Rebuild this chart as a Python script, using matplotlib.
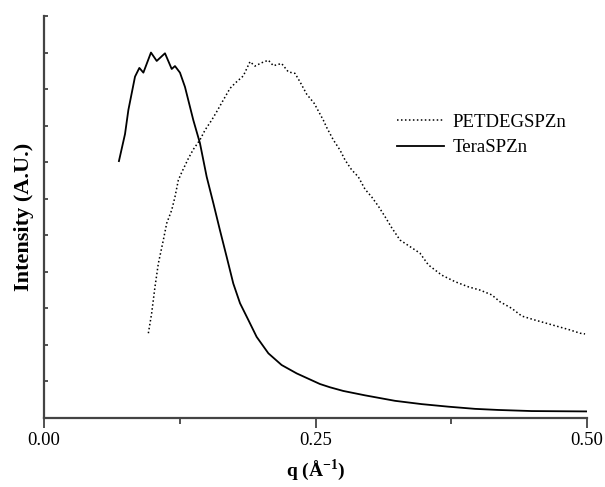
import matplotlib
matplotlib.use("Agg")
import matplotlib.pyplot as plt
from matplotlib.ticker import MultipleLocator, FixedLocator

plt.rcParams['font.family'] = ['Liberation Serif', 'DejaVu Serif']
plt.rcParams['mathtext.fontset'] = 'custom'
plt.rcParams['mathtext.rm'] = 'Liberation Serif'
plt.rcParams['mathtext.bf'] = 'Liberation Serif:bold'

# Scattering vector q (1/Angstrom) and intensity (arbitrary units)
tera_q = [0.069, 0.0746, 0.0777, 0.0838, 0.0878, 0.0915, 0.0985, 0.1038, 0.1114,
          0.1176, 0.1206, 0.1252, 0.1298, 0.1375, 0.1436, 0.1498, 0.156, 0.162,
          0.1682, 0.1743, 0.1805, 0.1882, 0.1958, 0.2066, 0.2188, 0.2327, 0.2541,
          0.2634, 0.2756, 0.2956, 0.3232, 0.3477, 0.3723, 0.3969, 0.4183, 0.449,
          0.5]
tera_i = [7.03, 7.77, 8.43, 9.34, 9.58, 9.45, 10.0, 9.77, 9.98,
          9.55, 9.63, 9.45, 9.06, 8.15, 7.52, 6.60, 5.87, 5.14,
          4.41, 3.68, 3.14, 2.68, 2.22, 1.77, 1.45, 1.22, 0.93,
          0.84, 0.74, 0.62, 0.47, 0.38, 0.31, 0.25, 0.22, 0.19,
          0.18]

petdeg_q = [0.0961, 0.0991, 0.1022, 0.1053, 0.1099, 0.113, 0.1176, 0.1206, 0.1237,
            0.1268, 0.1329, 0.1375, 0.1436, 0.1483, 0.1544, 0.159, 0.1651, 0.1713,
            0.1759, 0.1835, 0.1897, 0.1943, 0.2004, 0.2066, 0.2112, 0.2188, 0.225,
            0.2311, 0.2357, 0.2419, 0.2488, 0.2572, 0.2603, 0.2664, 0.2726, 0.2772,
            0.2833, 0.2894, 0.2956, 0.3017, 0.3078, 0.314, 0.3201, 0.3278, 0.337,
            0.3462, 0.3539, 0.3662, 0.3785, 0.3907, 0.4015, 0.4122, 0.4199, 0.4307,
            0.4399, 0.4521, 0.4629, 0.4736, 0.4843, 0.4936, 0.4982]
petdeg_i = [2.32, 2.86, 3.59, 4.23, 4.87, 5.33, 5.69, 6.05, 6.51,
            6.72, 7.1, 7.35, 7.61, 7.88, 8.15, 8.38, 8.70, 9.02,
            9.16, 9.36, 9.75, 9.63, 9.72, 9.79, 9.64, 9.70, 9.47,
            9.43, 9.20, 8.86, 8.61, 8.15, 7.95, 7.61, 7.33, 7.06,
            6.79, 6.60, 6.26, 6.05, 5.80, 5.51, 5.21, 4.87, 4.69,
            4.51, 4.19, 3.91, 3.73, 3.59, 3.50, 3.37, 3.18, 3.00,
            2.79, 2.68, 2.59, 2.50, 2.41, 2.32, 2.30]

x_ticks = [0.00, 0.25, 0.50]
x_ticklabels = ["0.00", "0.25", "0.50"]

fig = plt.figure(figsize=(6.05, 4.87), dpi=100)
ax = fig.add_axes([44 / 605, 69 / 487, 543 / 605, 402 / 487])

ax.plot(petdeg_q, petdeg_i, color='black', lw=1.1, linestyle=(0, (1, 1.6)),
        label='PETDEGSPZn')
ax.plot(tera_q, tera_i, color='black', lw=1.3, linestyle='-', label='TeraSPZn')

ax.set_xlim(0, 0.5)
ax.set_ylim(0, 11)

for side in ('top', 'right'):
    ax.spines[side].set_visible(False)
for side in ('left', 'bottom'):
    ax.spines[side].set_color('#444444')
    ax.spines[side].set_linewidth(1.6)

ax.xaxis.set_major_locator(FixedLocator(x_ticks))
ax.set_xticklabels(x_ticklabels)
ax.xaxis.set_minor_locator(FixedLocator([0.125, 0.375]))
ax.tick_params(axis='x', which='major', direction='out', length=7, width=1.2,
               color='#333333', labelsize=13.5, pad=3)
ax.tick_params(axis='x', which='minor', direction='out', length=4, width=1.2,
               color='#333333')

ax.yaxis.set_major_locator(MultipleLocator(1))
ax.tick_params(axis='y', which='major', direction='in', length=3, width=1.2,
               color='#333333', labelleft=False)

ax.set_xlabel(r'q (Å$^{\mathbf{-1}}$)', fontsize=14, fontweight='bold', labelpad=6)
ax.set_ylabel('Intensity (A.U.)', fontsize=16, fontweight='bold', labelpad=7)

ax.legend(loc='upper left', bbox_to_anchor=(0.65, 0.757), frameon=False,
          fontsize=13.5, handlelength=2.5, handletextpad=0.45, labelspacing=0.45,
          borderpad=0, borderaxespad=0)

fig.savefig('out.png', dpi=100)
